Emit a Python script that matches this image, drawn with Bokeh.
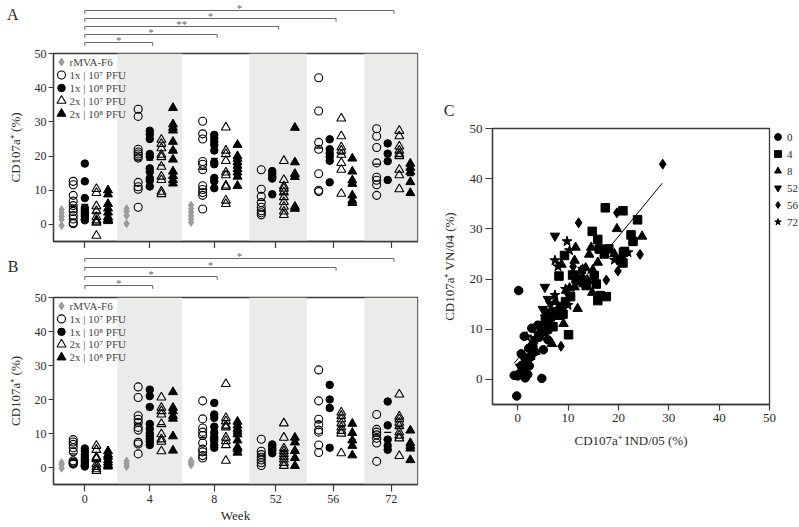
from bokeh.plotting import figure
from bokeh.models import Range1d, FixedTicker, Legend, LegendItem, CustomLabelingPolicy
from bokeh.layouts import row, column
from bokeh.embed import file_html
from bokeh.resources import INLINE
from bokeh.core.properties import value

# ------------------------------------------------------------------ data
weeks = ["0", "4", "8", "52", "56", "72"]
groups = ["rmva", "1x7", "1x8", "2x7", "2x8"]
legend_labels = ["rMVA-F6", "1x | 10\u2077 PFU", "1x | 10\u2078 PFU",
                 "2x | 10\u2077 PFU", "2x | 10\u2078 PFU"]

# Panel A  (one list per week; rMVA-F6 only weeks 0, 4, 8)
a_rmva = [[4.3, 3.4, 2.4, 1.5, -0.3], [4.6, 3.8, 2.6, 0.2], [5.6, 4.6, 3.6, 2.6, 1.6, 0.6]]
a_1x7 = [[12.6, 11.6, 8.5, 6.8, 5.5, 4.5, 3.8, 2.6, 1.6, 0.5, 0.2],
         [33.7, 31.6, 22.0, 21.2, 20.6, 20.0, 19.4, 12.3, 11.0, 10.3, 5.0],
         [30.2, 26.5, 25.0, 18.4, 17.6, 16.0, 11.3, 10.2, 9.3, 8.5, 4.5],
         [16.0, 10.3, 8.2, 6.4, 5.0, 4.0, 3.4, 2.8],
         [42.9, 33.2, 24.0, 22.0, 14.8, 10.0, 9.6],
         [28.0, 25.8, 22.5, 18.0, 13.8, 12.9, 11.6, 8.5]]
a_1x8 = [[17.8, 12.6, 7.7, 4.8, 4.2, 3.6, 3.0, 2.4, 1.6, 1.2],
         [27.4, 26.3, 25.0, 20.6, 19.8, 16.4, 15.4, 13.5, 12.8, 11.1],
         [26.2, 25.2, 24.2, 23.2, 21.6, 18.2, 17.6, 13.6, 12.6, 10.6],
         [15.6, 14.8, 14.0, 13.4, 8.8],
         [24.9, 22.0, 20.8, 19.8, 18.6, 12.3],
         [23.7, 20.7, 18.5, 13.0]]
a_2x7 = [[10.4, 9.2, 5.3, 3.9, 2.2, 1.2, 0.8, 0.5, -3.3],
         [24.8, 23.6, 22.3, 20.4, 19.7, 16.9, 14.0, 13.0, 9.6, 8.9],
         [28.4, 21.6, 20.6, 18.6, 15.2, 14.4, 11.4, 11.0, 7.0, 6.0],
         [18.6, 13.0, 11.2, 10.5, 9.4, 8.0, 6.6, 5.2, 3.8, 2.8],
         [31.0, 25.8, 22.6, 21.6, 20.4, 18.0, 16.0, 9.0],
         [27.4, 25.8, 22.8, 21.6, 20.6, 20.0, 16.0, 14.4, 10.3]]
a_2x8 = [[10.0, 8.8, 6.0, 4.7, 3.5, 2.2, 1.6, 1.3, 1.0],
         [34.1, 29.3, 28.3, 27.5, 24.2, 21.6, 19.0, 15.5, 14.2, 13.0, 12.0],
         [23.3, 20.0, 19.2, 18.2, 17.2, 16.2, 15.2, 14.0, 11.3],
         [28.3, 18.2, 14.8, 13.9, 5.2, 4.6],
         [19.3, 15.5, 12.9, 11.9, 8.5, 7.0, 6.3],
         [17.8, 16.6, 15.4, 12.4, 9.2]]
a_sig_weeks = ["4", "8", "52", "56", "72"]
a_sig_marks = ["*", "*", "**", "*", "*"]

# Panel B
b_rmva = [[1.4, 0.9, -0.2], [1.9, 1.1, 0.3], [2.0, 1.5, 1.1, 0.8]]
b_1x7 = [[8.2, 7.5, 6.8, 5.8, 4.6, 2.0, 1.6, 1.2, 1.0, 1.4],
         [23.7, 20.6, 15.2, 14.2, 13.2, 11.8, 11.0, 7.4, 6.9, 4.0],
         [19.6, 14.3, 11.6, 10.4, 9.4, 7.2, 5.4, 4.6, 3.5, 2.8],
         [8.3, 4.8, 3.8, 3.0, 2.2, 1.4, 0.6],
         [28.7, 19.6, 14.2, 12.6, 11.0, 10.4, 6.6, 4.4],
         [15.6, 11.2, 10.4, 9.6, 8.6, 7.2, 1.8]]
b_1x8 = [[5.6, 4.8, 3.8, 3.0, 2.4, 1.8, 1.0, 0.6, 0.3],
         [22.9, 21.0, 17.8, 12.8, 11.4, 10.0, 9.2, 8.4, 7.6, 6.6],
         [19.0, 15.6, 14.6, 12.0, 10.2, 9.0, 8.4, 7.8, 6.6, 5.8],
         [6.8, 6.2, 5.6, 5.0, 4.2],
         [24.3, 20.0, 17.5, 5.8],
         [19.4, 12.4, 8.2, 6.4, 5.2]]
b_2x7 = [[6.4, 5.2, 3.0, 2.5, 1.0, 0.2, -0.5, -1.0],
         [20.6, 17.6, 16.6, 15.6, 12.8, 9.8, 8.3, 7.6, 4.8],
         [24.6, 14.6, 13.6, 12.4, 11.8, 8.8, 7.8, 6.6, 2.0],
         [13.0, 8.8, 5.6, 4.8, 4.0, 3.2, 2.4, 1.4, 0.5],
         [16.2, 15.2, 14.2, 13.0, 11.8, 10.8, 10.0, 4.2],
         [21.5, 15.0, 14.2, 13.2, 12.2, 10.4, 9.4, 8.6, 3.4]]
b_2x8 = [[4.8, 3.8, 3.2, 2.2, 1.5, 0.8, 0.3],
         [22.2, 17.6, 16.6, 15.2, 14.4, 9.2, 5.0],
         [13.5, 12.4, 11.4, 10.6, 9.8, 8.0, 6.0, 5.4, 4.4],
         [8.8, 7.4, 4.9, 2.8, 0.5],
         [12.9, 10.2, 8.0, 6.4, 3.6],
         [10.9, 7.2, 6.4, 5.6, 2.2]]
b_sig_weeks = ["4", "8", "56", "72"]
b_sig_marks = ["*", "*", "*", "*"]

# Panel C  (x = IND/05, y = VN/04), one pair of lists per week
c_w0_x = [0.2, -0.7, 0.0, 1.5, 4.8, -0.2, 1.3, 2.8, 2.2, 2.3, 5.1, 0.8, 4.3, 6.0, 0.7, 1.0, 1.8,
          2.6, 3.4, 1.2, 0.4, 3.0, 5.6, 4.0, 1.6, 2.0]
c_w0_y = [17.7, 0.8, 0.7, 0.3, 0.2, -3.3, 8.6, 10.2, 6.2, 2.7, 5.9, 2.8, 8.4, 7.9, 5.1, 1.5, 3.6,
          4.5, 5.5, 2.0, 1.2, 7.0, 9.6, 10.8, 4.0, 1.0]
c_w4_x = [17.4, 20.9, 23.8, 14.8, 22.5, 22.9, 15.9, 9.3, 16.2, 17.2, 18.1, 21.2, 20.5, 20.9, 8.2,
          10.9, 11.6, 12.6, 13.6, 15.2, 15.6, 15.9, 16.4, 17.6, 10.1, 21.0, 6.5, 7.5, 8.5, 9.0,
          6.0, 7.0, 5.5, 9.5, 10.5, 4.8]
c_w4_y = [34.2, 33.6, 31.8, 29.5, 28.8, 27.5, 27.9, 24.7, 26.0, 25.0, 26.0, 25.5, 23.7, 23.2, 20.6,
          20.8, 20.0, 19.7, 18.7, 20.7, 19.0, 15.7, 16.7, 16.5, 8.9, 25.3, 12.5, 13.5, 14.5, 13.0,
          11.0, 10.5, 12.0, 15.5, 16.5, 9.5]
c_w8_x = [19.7, 24.7, 11.5, 14.6, 14.2, 19.2, 11.3, 8.7, 15.9, 12.6, 13.5, 14.9, 12.9, 13.9, 13.1,
          11.9, 14.8, 11.9, 6.8, 9.1, 9.6, 10.3, 11.3, 4.5, 5.5, 7.5, 3.5, 2.5, 6.0, 8.0, 1.2]
c_w8_y = [30.0, 28.5, 26.3, 26.3, 24.9, 25.0, 23.7, 22.9, 23.3, 21.7, 22.2, 21.8, 20.4, 19.7, 19.0,
          20.4, 17.3, 14.1, 7.1, 11.1, 17.7, 18.2, 18.4, 9.5, 11.5, 15.5, 5.5, 4.5, 13.0, 12.5, 3.0]
c_w52_x = [7.4, 5.4, 6.0, 5.0, 3.0, 2.0, 4.0, 5.8, 1.5, 4.5, 3.5, 0.5, 6.5, 1.0, 7.0]
c_w52_y = [28.6, 18.4, 16.0, 14.0, 6.0, 4.5, 9.0, 13.5, 3.0, 11.0, 8.0, 2.5, 15.0, 4.5, 12.5]
c_w56_x = [28.8, 19.7, 12.1, 24.3, 17.6, 19.9, 8.6, 11.0, 4.4, 5.8, 6.5, 13.5, 16.0, 10.0, 3.0]
c_w56_y = [42.9, 33.2, 31.2, 24.9, 19.8, 21.6, 6.6, 22.5, 9.6, 12.3, 10.0, 19.5, 26.0, 17.0, 7.5]
c_w72_x = [9.8, 10.3, 21.9, 7.4, 8.0, 12.9, 19.2, 7.4, 1.8, 3.4, 5.5, 8.5, 10.0, 6.5, 9.5, 2.2]
c_w72_y = [27.5, 25.7, 25.3, 23.7, 22.5, 22.0, 23.8, 16.8, 8.5, 8.0, 12.5, 14.0, 14.8, 11.0, 18.0, 4.5]
c_fit_x = [-0.7, 28.7]
c_fit_slope = 1.22
c_fit_intercept = 4.07

# ------------------------------------------------------------------ style / layout
FONT = "Liberation Serif"
AXIS = "#3a3a3a"
TXT = "#2a2a2a"
BAND = "#ebebe9"
GRAY = "#9c9c9c"
BRK = "#666666"

SLOT = 11.6           # px per group slot
FRAME_W = 364
LEFT_B = 53
RIGHT_B = 10
XMAX = FRAME_W / SLOT
week_tick = [2.70, 8.30, 13.86, 19.16, 24.11, 29.11]
off5 = {"rmva": -2.0, "1x7": -1.0, "1x8": 0.0, "2x7": 1.0, "2x8": 2.0}
off4 = {"1x7": -1.25, "1x8": -0.3, "2x7": 0.7, "2x8": 1.65}


def gx(wi, g):
    return week_tick[wi] + (off5 if wi < 3 else off4)[g]


def extent(wi):
    offs = off5 if wi < 3 else off4
    return week_tick[wi] + min(offs.values()), week_tick[wi] + max(offs.values())


band_l, band_r = [], []
for wi in [1, 3, 5]:
    band_l.append((extent(wi - 1)[1] + extent(wi)[0]) / 2)
    band_r.append((extent(wi)[1] + extent(wi + 1)[0]) / 2 if wi + 1 < len(weeks) else XMAX)

styles = {
    "rmva": dict(marker="diamond", size=8, fill_color=GRAY, line_color=GRAY),
    "1x7": dict(marker="circle", size=8, fill_color=None, line_color="black", line_width=1.1),
    "1x8": dict(marker="circle", size=7.5, fill_color="black", line_color="black"),
    "2x7": dict(marker="triangle", size=9, fill_color=None, line_color="black", line_width=1.1),
    "2x8": dict(marker="triangle", size=9, fill_color="black", line_color="black"),
}


def style_axis(ax, tick_out, tick_font="12px"):
    ax.axis_line_color = AXIS
    ax.axis_line_width = 1.3
    ax.major_tick_line_color = AXIS
    ax.major_tick_line_width = 1.2
    ax.major_tick_in = 0
    ax.major_tick_out = tick_out
    ax.minor_tick_in = 0
    ax.minor_tick_out = 0
    ax.major_label_text_font = FONT
    ax.major_label_text_font_size = tick_font
    ax.major_label_text_color = TXT
    ax.axis_label_text_font = FONT
    ax.axis_label_text_font_size = "13px"
    ax.axis_label_text_font_style = "normal"
    ax.axis_label_text_color = TXT


def letter_axis(f, letter, y, standoff):
    ax = f.yaxis[0]
    ax.ticker = FixedTicker(ticks=[y], minor_ticks=[])
    ax.major_label_overrides = {y: letter}
    ax.axis_line_color = None
    ax.major_tick_line_color = None
    ax.major_tick_in = 0
    ax.major_tick_out = 0
    ax.minor_tick_in = 0
    ax.minor_tick_out = 0
    ax.major_label_standoff = standoff
    ax.major_label_text_font = FONT
    ax.major_label_text_font_size = "16px"
    ax.major_label_text_color = TXT


shared_x = Range1d(0, XMAX)


def dot_panel(series, frame_h, top, bottom, show_labels):
    p = figure(title=None, frame_width=FRAME_W, frame_height=frame_h, x_range=shared_x,
               y_range=Range1d(-5, 50), min_border_left=LEFT_B, min_border_right=RIGHT_B,
               min_border_top=top, min_border_bottom=bottom,
               output_backend="svg", toolbar_location=None)
    p.grid.visible = False
    p.outline_line_color = AXIS
    p.outline_line_width = 1.3
    p.quad(left=band_l, right=band_r, bottom=-5, top=50, fill_color=BAND, line_color=None)
    for g in groups:
        xs, ys, mx, my = [], [], [], []
        for wi, vals in enumerate(series[g]):
            xs += [gx(wi, g)] * len(vals)
            ys += vals
            if g != "rmva":
                mx.append(gx(wi, g))
                my.append(sum(vals) / len(vals))
        p.scatter(xs, ys, **styles[g])
        if mx:
            p.scatter(mx, my, marker="dash", size=7, line_color="black", line_width=1.3)
    # legend drawn inside the frame
    leg_y = [47.5, 43.7, 39.9, 36.2, 32.4]
    for g, yy in zip(groups, leg_y):
        p.scatter([0.69], [yy], **styles[g])
    p.text(x=[1.38] * len(leg_y), y=leg_y, text=legend_labels, text_font=value(FONT),
           text_font_size="11px", text_baseline="middle", text_color="#444444")

    style_axis(p.yaxis[0], 5)
    p.yaxis.ticker = FixedTicker(ticks=[0, 10, 20, 30, 40, 50], minor_ticks=[])
    p.yaxis.major_label_standoff = 2
    p.yaxis.axis_label = "CD107a\u207a (%)"
    p.yaxis.axis_label_standoff = 9
    style_axis(p.xaxis[0], 7)
    p.xaxis.ticker = FixedTicker(ticks=week_tick, minor_ticks=[])
    if show_labels:
        p.xaxis.major_label_overrides = {t: w for t, w in zip(week_tick, weeks)}
        p.xaxis.major_label_standoff = 3
        p.xaxis.axis_label = "Week"
        p.xaxis.axis_label_standoff = 2
    else:
        p.xaxis.major_label_text_font_size = "0px"
        p.xaxis.major_label_standoff = 0
        p.xaxis.major_label_policy = CustomLabelingPolicy(
            code="for (const i of indices) { indices.unset(i) }\nreturn indices")
    return p


def bracket_panel(h, sig_weeks, marks, levels, letter, letter_y):
    f = figure(title=None, frame_width=FRAME_W, frame_height=h, x_range=shared_x,
               y_range=Range1d(0, h), x_axis_location=None,
               min_border_left=LEFT_B, min_border_right=RIGHT_B, min_border_top=0,
               min_border_bottom=0, output_backend="svg", toolbar_location=None)
    f.grid.visible = False
    f.outline_line_color = None
    x0 = week_tick[0]
    x1 = [week_tick[weeks.index(w)] + 0.25 for w in sig_weeks]
    n = len(x1)
    f.segment(x0=[x0] * n, y0=levels, x1=x1, y1=levels, line_color=BRK, line_width=1)
    f.segment(x0=[x0] * n, y0=levels, x1=[x0] * n, y1=[l - 3.3 for l in levels],
              line_color=BRK, line_width=1)
    f.segment(x0=x1, y0=levels, x1=x1, y1=[l - 3.3 for l in levels], line_color=BRK, line_width=1)
    f.text(x=[(x0 + a) / 2 for a in x1], y=[l - 3.4 for l in levels], text=marks,
           text_font=value(FONT), text_font_size="11px", text_align="center",
           text_baseline="bottom", text_color="#666666")
    letter_axis(f, letter, letter_y, 35)
    return f


a_series = dict(zip(groups, [a_rmva, a_1x7, a_1x8, a_2x7, a_2x8]))
b_series = dict(zip(groups, [b_rmva, b_1x7, b_1x8, b_2x7, b_2x8]))

a_br = bracket_panel(46, a_sig_weeks, a_sig_marks, [4, 12, 20, 28, 36], "A", 32)
a_pl = dot_panel(a_series, 188, 7, 7, False)
b_br = bracket_panel(42, b_sig_weeks, b_sig_marks, [5, 14, 23, 32], "B", 24)
b_pl = dot_panel(b_series, 187, 7, 42, True)

# ------------------------------------------------------------------ panel C
C_LEFT, C_FRAME, C_RIGHT = 65, 277, 29
c_head = figure(title=None, frame_width=C_FRAME, frame_height=120,
                x_range=Range1d(-5, 50), y_range=Range1d(0, 120),
                x_axis_location=None, min_border_left=C_LEFT,
                min_border_right=C_RIGHT, min_border_top=0, min_border_bottom=0,
                output_backend="svg", toolbar_location=None)
c_head.grid.visible = False
c_head.outline_line_color = None
letter_axis(c_head, "C", 10, 38)

pc = figure(title=None, frame_width=C_FRAME, frame_height=276, x_range=Range1d(-5, 50),
            y_range=Range1d(-5, 50), min_border_left=C_LEFT, min_border_top=8,
            min_border_bottom=60, min_border_right=C_RIGHT,
            output_backend="svg", toolbar_location=None)
pc.grid.visible = False
pc.outline_line_color = AXIS
pc.outline_line_width = 1.3
fit_y = [c_fit_intercept + c_fit_slope * x for x in c_fit_x]
pc.line(c_fit_x, fit_y, line_color="black", line_width=1.0)
c_sets = [(c_w0_x, c_w0_y, "circle", 8.5), (c_w4_x, c_w4_y, "square", 8.5),
          (c_w8_x, c_w8_y, "triangle", 9.5), (c_w52_x, c_w52_y, "inverted_triangle", 9.5),
          (c_w56_x, c_w56_y, "diamond", 10), (c_w72_x, c_w72_y, "star", 10.5)]
items = []
for wk, (xs, ys, mk, sz) in zip(weeks, c_sets):
    r = pc.scatter(xs, ys, marker=mk, size=sz, fill_color="black", line_color="black")
    items.append(LegendItem(label=wk, renderers=[r]))
leg = Legend(items=items, location="top_left", margin=0, padding=0, spacing=0,
             glyph_width=17, glyph_height=17, label_height=17, label_standoff=1,
             label_text_font=FONT, label_text_font_size="11px", label_text_color=TXT,
             background_fill_alpha=0, border_line_color=None)
pc.add_layout(leg, "right")
style_axis(pc.yaxis[0], 7, "13px")
style_axis(pc.xaxis[0], 6, "13px")
pc.yaxis.ticker = FixedTicker(ticks=[0, 10, 20, 30, 40, 50], minor_ticks=[])
pc.xaxis.ticker = FixedTicker(ticks=[0, 10, 20, 30, 40, 50], minor_ticks=[])
pc.yaxis.major_label_standoff = 3
pc.xaxis.major_label_standoff = 3
pc.yaxis.axis_label = "CD107a\u207a VN/04 (%)"
pc.xaxis.axis_label = "CD107a\u207a IND/05 (%)"
pc.yaxis.axis_label_standoff = 10
pc.xaxis.axis_label_standoff = 8

layout = row(column(a_br, a_pl, b_br, b_pl), column(c_head, pc))
open("out.html", "w").write(file_html(layout, INLINE))
